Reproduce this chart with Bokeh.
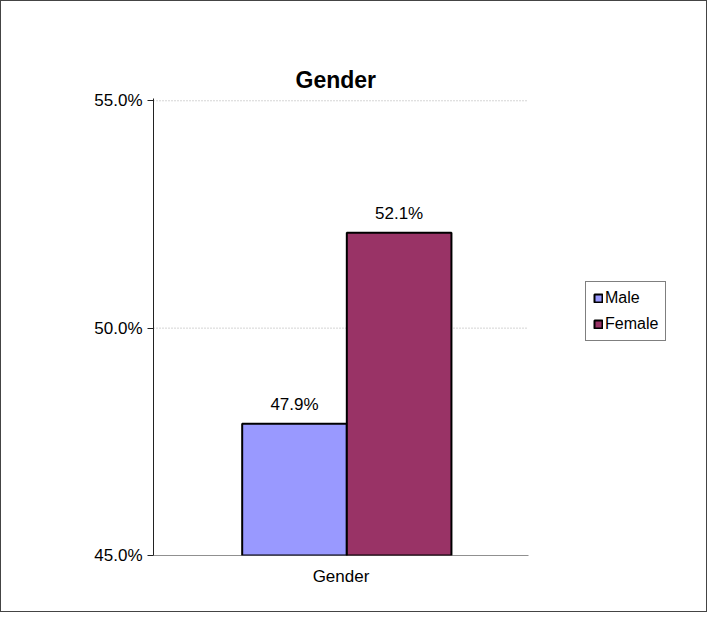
from bokeh.plotting import figure
from bokeh.models import NumeralTickFormatter, Legend, LegendItem, Title, FixedTicker, Range1d, LabelSet, ColumnDataSource
from bokeh.core.properties import value
from bokeh.embed import file_html
from bokeh.resources import INLINE

categories = ["Male", "Female"]
values = [0.479, 0.521]
labels = ["47.9%", "52.1%"]
colors = ["#9999ff", "#993366"]
positions = [0.376, 0.655]
y_ticks = [0.45, 0.50, 0.55]

p = figure(width=707, height=612, output_backend="svg", toolbar_location=None,
           x_range=Range1d(0, 540 / 375), y_range=Range1d(0.45, 0.5505),
           min_border_left=152, min_border_right=15, min_border_top=97, min_border_bottom=58)
p.styles = {"border": "1px solid #444"}
p.outline_line_color = None

# dotted gridlines limited to the plot area
p.segment(x0=[0] * 2, x1=[1] * 2, y0=y_ticks[1:], y1=y_ticks[1:],
          line_color="#aaaaaa", line_dash="1 2")
p.segment(x0=[0], x1=[1], y0=[0.45], y1=[0.45], line_color="#222222")

src = ColumnDataSource(dict(x=positions, top=values, lab=labels, color=colors, name=categories))
r = p.vbar(x="x", top="top", bottom=0.45, width=0.279, fill_color="color",
           line_color="black", line_width=2, source=src)

p.add_layout(LabelSet(x="x", y="top", text="lab", source=src, text_align="center",
                      y_offset=10, text_font=value("Liberation Sans"), text_font_size="17px",
                      text_color="black"))

p.title = Title(text="Gender", align="left", text_font="Liberation Sans",
                text_font_size="23px", text_font_style="bold", text_color="black")
p.title.offset = 142
p.title.standoff = 12

for ax in (p.xaxis, p.yaxis):
    ax.major_label_text_font = "Liberation Sans"
    ax.major_label_text_font_size = "17px"
    ax.major_label_text_color = "black"
    ax.minor_tick_line_color = None
p.yaxis.axis_line_color = "#222222"
p.yaxis.major_tick_line_color = "#222222"
p.yaxis.ticker = FixedTicker(ticks=y_ticks)
p.yaxis.formatter = NumeralTickFormatter(format="0.0%")
p.yaxis.major_tick_out = 6
p.yaxis.major_tick_in = 0
p.xaxis.axis_line_color = None
p.xaxis.ticker = FixedTicker(ticks=[0.5])
p.xaxis.major_label_overrides = {0.5: "Gender"}
p.xaxis.major_tick_line_color = None
p.grid.grid_line_color = None

legend = Legend(items=[LegendItem(label=c, renderers=[r], index=i) for i, c in enumerate(categories)],
                location=(432, 214), border_line_color="black", label_text_font="Liberation Sans",
                label_text_font_size="16px", label_text_color="black",
                glyph_width=10, glyph_height=10, spacing=8, padding=7, label_standoff=2)
p.add_layout(legend, "center")

open("out.html", "w").write(file_html(p, INLINE))
